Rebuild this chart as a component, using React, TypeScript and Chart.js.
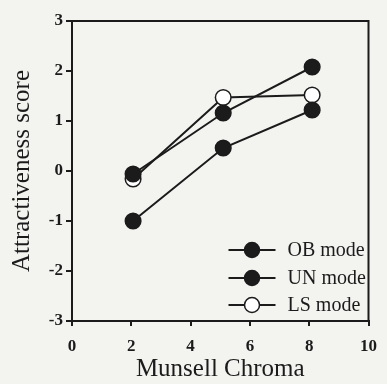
import React, { useEffect, useRef } from "react";
import { Chart, registerables } from "chart.js";

Chart.register(...registerables);

const chroma = [2.06, 5.1, 8.1];
const obMode = [-0.06, 1.16, 2.08];
const unMode = [-1.0, 0.46, 1.22];
const lsMode = [-0.16, 1.47, 1.52];
const seriesLabels = ["OB mode", "UN mode", "LS mode"];
const xTitle = "Munsell Chroma";
const yTitle = "Attractiveness score";

const INK = "#1b1b1b";
const BG = "#f3f3f0";

const bgPlugin = {
  id: "bgFill",
  beforeDraw(chart: any) {
    const { ctx, width, height } = chart;
    ctx.save();
    ctx.fillStyle = BG;
    ctx.fillRect(0, 0, width, height);
    ctx.restore();
  },
};

const boxPlugin = {
  id: "boxAndLegend",
  afterDraw(chart: any) {
    const { ctx, chartArea } = chart;
    const { left, right, top, bottom } = chartArea;
    ctx.save();
    ctx.strokeStyle = INK;
    ctx.lineWidth = 2;
    ctx.beginPath();
    ctx.moveTo(left - 6, top);
    ctx.lineTo(right, top);
    ctx.lineTo(right, bottom);
    ctx.stroke();

    // legend
    const rows = [250, 278, 305];
    chart.data.datasets.forEach((ds: any, i: number) => {
      const y = rows[i];
      const x0 = right - 140;
      const x1 = right - 93;
      const xm = (x0 + x1) / 2;
      ctx.strokeStyle = INK;
      ctx.lineWidth = 2;
      ctx.beginPath();
      ctx.moveTo(x0, y);
      ctx.lineTo(x1, y);
      ctx.stroke();
      ctx.beginPath();
      ctx.arc(xm, y, 7.5, 0, Math.PI * 2);
      ctx.fillStyle = ds.pointBackgroundColor;
      ctx.fill();
      ctx.lineWidth = 1.5;
      ctx.stroke();
      ctx.fillStyle = INK;
      ctx.font = "20px 'Liberation Serif', serif";
      ctx.textBaseline = "middle";
      ctx.textAlign = "left";
      ctx.fillText(ds.label, x1 + 12, y + 1);
    });
    ctx.restore();
  },
};

export default function App() {
  const ref = useRef<HTMLCanvasElement | null>(null);
  useEffect(() => {
    if (!ref.current) return;
    const mk = (label: string, ys: number[], fill: string) => ({
      label,
      data: chroma.map((x, i) => ({ x, y: ys[i] })),
      borderColor: INK,
      borderWidth: 2,
      pointRadius: 7.8,
      pointBackgroundColor: fill,
      pointBorderColor: INK,
      pointBorderWidth: 1.5,
      showLine: true,
      fill: false,
      tension: 0,
    });
    const chart = new Chart(ref.current, {
      type: "scatter",
      data: {
        datasets: [
          mk(seriesLabels[0], obMode, INK),
          mk(seriesLabels[1], unMode, INK),
          mk(seriesLabels[2], lsMode, "#ffffff"),
        ],
      },
      options: {
        animation: false,
        responsive: false,
        layout: { padding: { top: 21, right: 11, left: 0, bottom: 0 } },
        plugins: { legend: { display: false }, tooltip: { enabled: false } },
        scales: {
          x: {
            type: "linear",
            min: 0,
            max: 10,
            afterFit(scale: any) {
              scale.height = 63;
            },
            ticks: {
              stepSize: 2,
              color: INK,
              padding: 10,
              font: { family: "'Liberation Serif', serif", size: 17, weight: "bold" },
            },
            grid: { drawOnChartArea: false, drawTicks: true, tickLength: 5, color: INK, lineWidth: 2 },
            border: { display: true, color: INK, width: 2 },
            title: {
              display: true,
              text: xTitle,
              color: INK,
              padding: { top: 0, bottom: 0 },
              font: { family: "'Liberation Serif', serif", size: 25 },
            },
          },
          y: {
            min: -3,
            max: 3,
            afterFit(scale: any) {
              scale.width = 72;
            },
            ticks: {
              stepSize: 1,
              color: INK,
              padding: 3,
              font: { family: "'Liberation Serif', serif", size: 17, weight: "bold" },
            },
            grid: { drawOnChartArea: false, drawTicks: true, tickLength: 6, color: INK, lineWidth: 2 },
            border: { display: true, color: INK, width: 2 },
            title: {
              display: true,
              text: yTitle,
              color: INK,
              padding: { top: 7, bottom: 0 },
              font: { family: "'Liberation Serif', serif", size: 25 },
            },
          },
        },
      },
      plugins: [bgPlugin, boxPlugin],
    } as any);
    return () => chart.destroy();
  }, []);
  return (
    <div style={{ position: "fixed", left: 0, top: 0, width: 387, height: 384 }}>
      <canvas ref={ref} width={387} height={384} style={{ display: "block" }} />
    </div>
  );
}
